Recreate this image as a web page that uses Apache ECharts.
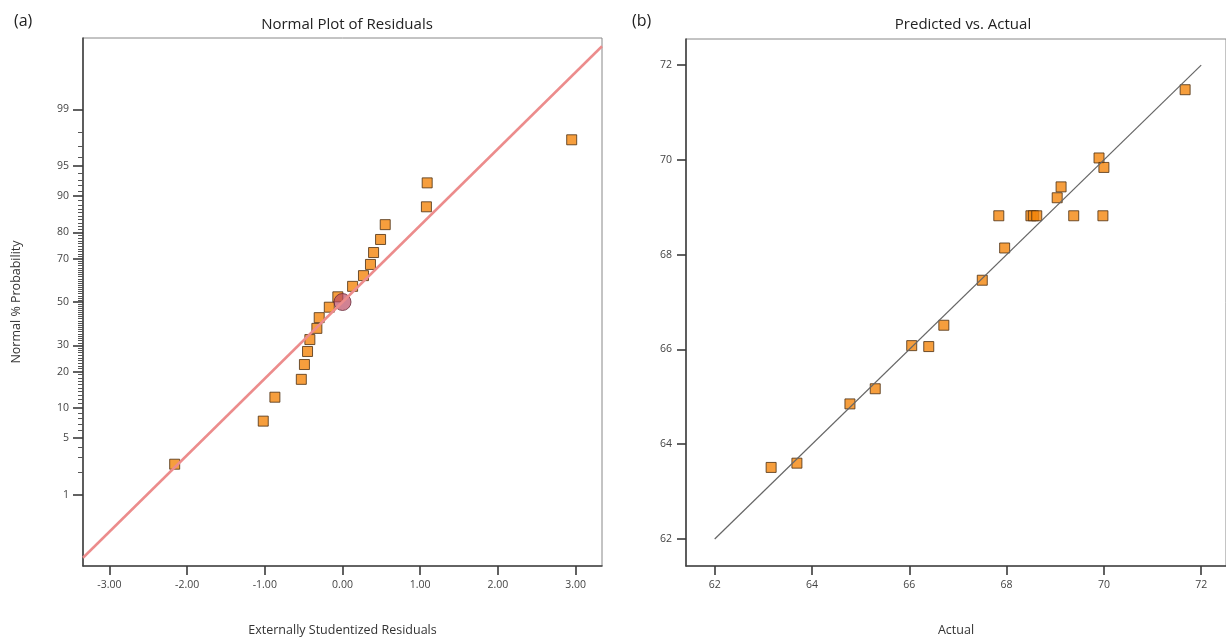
<!DOCTYPE html>
<html>
<head>
<meta charset="utf-8">
<script src="https://cdn.jsdelivr.net/npm/echarts@6/dist/echarts.min.js"></script>
<style>
	html, body { margin: 0; padding: 0; background: #fff; }
	#chart { width: 1226px; height: 642px; }
</style>
</head>
<body>
<div id="chart"></div>
<script>
	// (a) normal plot of residuals
	var residuals = [-2.16, -1.02, -0.87, -0.53, -0.49, -0.45, -0.42, -0.33, -0.30, -0.17,
		-0.06, 0.13, 0.27, 0.36, 0.40, 0.49, 0.55, 1.08, 1.09, 2.95];
	var normalPct = [2.5, 7.5, 12.5, 17.5, 22.5, 27.5, 32.5, 37.5, 42.5, 47.5,
		52.5, 57.5, 62.5, 67.5, 72.5, 77.5, 82.5, 87.5, 92.5, 97.5];
	var centerPoint = [0, 50];
	var fitLine = [[-3.34, 0.1], [3.34, 99.9]];
	var probLabels = [1, 5, 10, 20, 30, 50, 70, 80, 90, 95, 99];
	var residTicks = [-3, -2, -1, 0, 1, 2, 3];

	// (b) predicted vs actual
	var actual = [63.16, 63.69, 64.78, 65.30, 66.05, 66.40, 66.71, 67.50, 67.96, 67.84,
		68.50, 68.55, 68.62, 69.38, 69.98, 69.04, 69.12, 69.90, 70.00, 71.67];
	var predicted = [63.51, 63.60, 64.85, 65.17, 66.08, 66.06, 66.51, 67.46, 68.14, 68.82,
		68.82, 68.82, 68.82, 68.82, 68.82, 69.20, 69.43, 70.04, 69.84, 71.48];
	var diagLine = [[62, 62], [72, 72]];
	var pvaTicks = [62, 64, 66, 68, 70, 72];

	// inverse normal cdf (Acklam) - maps % probability onto a linear z axis
	function probit(p) {
		var a = [-3.969683028665376e+01, 2.209460984245205e+02, -2.759285104469687e+02, 1.383577518672690e+02, -3.066479806614716e+01, 2.506628277459239e+00];
		var b = [-5.447609879822406e+01, 1.615858368580409e+02, -1.556989798598866e+02, 6.680131188771972e+01, -1.328068155288572e+01];
		var c = [-7.784894002430293e-03, -3.223964580411365e-01, -2.400758277161838e+00, -2.549732539343734e+00, 4.374664141464968e+00, 2.938163982698783e+00];
		var d = [7.784695709041462e-03, 3.224671290700398e-01, 2.445134137142996e+00, 3.754408661907416e+00];
		var pl = 0.02425, q, r;
		if (p < pl) {
			q = Math.sqrt(-2 * Math.log(p));
			return (((((c[0] * q + c[1]) * q + c[2]) * q + c[3]) * q + c[4]) * q + c[5]) / ((((d[0] * q + d[1]) * q + d[2]) * q + d[3]) * q + 1);
		}
		if (p > 1 - pl) {
			q = Math.sqrt(-2 * Math.log(1 - p));
			return -(((((c[0] * q + c[1]) * q + c[2]) * q + c[3]) * q + c[4]) * q + c[5]) / ((((d[0] * q + d[1]) * q + d[2]) * q + d[3]) * q + 1);
		}
		q = p - 0.5; r = q * q;
		return (((((a[0] * r + a[1]) * r + a[2]) * r + a[3]) * r + a[4]) * r + a[5]) * q / (((((b[0] * r + b[1]) * r + b[2]) * r + b[3]) * r + b[4]) * r + 1);
	}
	function z(pct) { return probit(pct / 100); }

	var majorZ = probLabels.map(z);
	var minorZ = [];
	for (var k = 2; k <= 98; k++) {
		if (probLabels.indexOf(k) < 0) minorZ.push(z(k));
	}

	var normalData = residuals.map(function (r, i) { return [r, z(normalPct[i])]; });
	var pvaData = actual.map(function (a, i) { return [a, predicted[i]]; });

	var font = '"Open Sans", "Noto Sans", sans-serif';
	var tickLabel = { color: '#444', fontSize: 10.5, fontFamily: font };
	var axisName = { color: '#333', fontSize: 12.5, fontFamily: font };
	var squareStyle = { color: '#f4860c', borderColor: '#4b2e12', borderWidth: 1 };

	function axisLine() { return { onZero: false, lineStyle: { color: '#444', width: 1.6 } }; }
	function ticks(values, len) {
		return { show: true, customValues: values, length: len, lineStyle: { color: '#3a3a3a', width: 1.6 } };
	}

	var myChart = echarts.init(document.getElementById('chart'));
	myChart.setOption({
		animation: false,
		backgroundColor: '#fff',
		title: [
			{ text: '(a)', left: 9, top: 8, textStyle: { fontSize: 16, fontWeight: 'normal', color: '#222', fontFamily: font } },
			{ text: 'Normal Plot of Residuals', left: 342, top: 12, textAlign: 'center', textStyle: { fontSize: 15, fontWeight: 'normal', color: '#222', fontFamily: font } },
			{ text: '(b)', left: 627, top: 8, textStyle: { fontSize: 16, fontWeight: 'normal', color: '#222', fontFamily: font } },
			{ text: 'Predicted vs. Actual', left: 958, top: 12, textAlign: 'center', textStyle: { fontSize: 15, fontWeight: 'normal', color: '#222', fontFamily: font } }
		],
		grid: [
			{ left: 83, top: 38, width: 519, bottom: 73, show: true, borderColor: '#888', borderWidth: 1 },
			{ left: 686, top: 39, right: -4, bottom: 73, show: true, borderColor: '#888', borderWidth: 1 }
		],
		xAxis: [
			{
				type: 'value', gridIndex: 0, min: -3.34, max: 3.34, position: 'bottom',
				splitLine: { show: false },
				axisLine: axisLine(),
				axisTick: ticks(residTicks, 9),
				axisLabel: Object.assign({ customValues: residTicks, margin: 14, formatter: function (v) { return v.toFixed(2); } }, tickLabel),
				name: 'Externally Studentized Residuals', nameLocation: 'middle', nameGap: 58, nameTextStyle: axisName
			},
			{
				type: 'value', gridIndex: 1, min: 61.41, max: 72.51, position: 'bottom',
				splitLine: { show: false },
				axisLine: axisLine(),
				axisTick: ticks(pvaTicks, 9),
				axisLabel: Object.assign({ customValues: pvaTicks, margin: 14 }, tickLabel),
				name: 'Actual', nameLocation: 'middle', nameGap: 58, nameTextStyle: axisName
			}
		],
		yAxis: [
			{
				type: 'value', gridIndex: 0, min: -3.19, max: 3.19, position: 'left',
				splitLine: { show: false },
				axisLine: axisLine(),
				axisTick: ticks(majorZ, 10),
				axisLabel: Object.assign({
					customValues: majorZ, margin: 14,
					formatter: function (v) {
						var best = 0;
						for (var i = 1; i < majorZ.length; i++) {
							if (Math.abs(majorZ[i] - v) < Math.abs(majorZ[best] - v)) best = i;
						}
						return String(probLabels[best]);
					}
				}, tickLabel),
				name: 'Normal % Probability', nameLocation: 'middle', nameGap: 60, nameTextStyle: axisName
			},
			{
				type: 'value', gridIndex: 0, min: -3.19, max: 3.19, position: 'left', offset: 0,
				splitLine: { show: false },
				axisLine: { show: false, onZero: false },
				axisTick: { show: true, customValues: minorZ, length: 5, lineStyle: { color: '#555', width: 1 } },
				axisLabel: { show: false }
			},
			{
				type: 'value', gridIndex: 1, min: 61.43, max: 72.55, position: 'left',
				splitLine: { show: false },
				axisLine: axisLine(),
				axisTick: ticks(pvaTicks, 9),
				axisLabel: Object.assign({ customValues: pvaTicks, margin: 14 }, tickLabel)
			}
		],
		series: [
			{
				type: 'line', xAxisIndex: 0, yAxisIndex: 0, silent: true, symbol: 'none',
				data: fitLine.map(function (p) { return [p[0], z(p[1])]; }),
				lineStyle: { color: '#ec8c8c', width: 2.5 }
			},
			{
				type: 'scatter', xAxisIndex: 0, yAxisIndex: 0, symbol: 'rect', symbolSize: 10,
				data: normalData, itemStyle: squareStyle
			},
			{
				type: 'scatter', xAxisIndex: 0, yAxisIndex: 0, symbol: 'circle', symbolSize: 17,
				data: [[centerPoint[0], z(centerPoint[1])]],
				itemStyle: { color: 'rgba(186,72,96,0.85)', borderColor: '#6a2a3a', borderWidth: 1 }
			},
			{
				type: 'line', xAxisIndex: 1, yAxisIndex: 2, silent: true, symbol: 'none',
				data: diagLine,
				lineStyle: { color: '#666', width: 1.2 }
			},
			{
				type: 'scatter', xAxisIndex: 1, yAxisIndex: 2, symbol: 'rect', symbolSize: 10,
				data: pvaData, itemStyle: squareStyle
			}
		]
	});
</script>
</body>
</html>
